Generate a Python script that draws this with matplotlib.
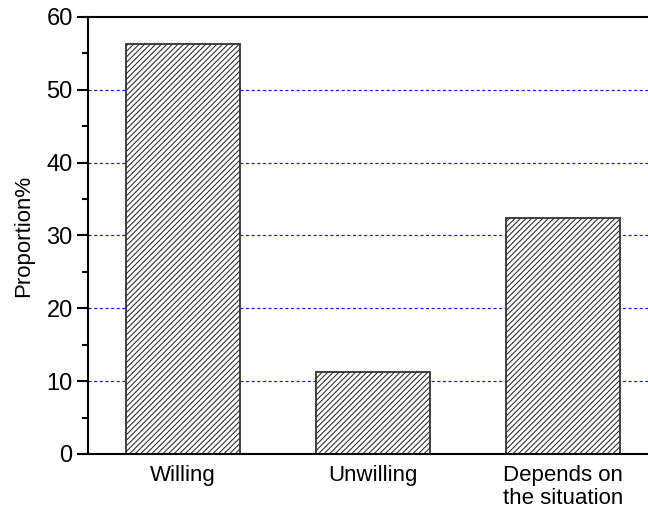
import matplotlib
matplotlib.use('Agg')
import matplotlib.pyplot as plt
from matplotlib.ticker import MultipleLocator

categories = ['Willing', 'Unwilling', 'Depends on\nthe situation']
proportions = [56.3, 11.3, 32.4]
yticks = [0, 10, 20, 30, 40, 50, 60]

plt.rcParams['font.family'] = ['Liberation Sans', 'DejaVu Sans']
plt.rcParams['hatch.linewidth'] = 0.8
plt.rcParams['hatch.color'] = '#222222'

fig = plt.figure(figsize=(6.48, 5.18), dpi=100)
ax = fig.add_axes([0.1358, 0.1236, 0.8796, 0.8436])

xs = list(range(len(categories)))
ax.bar(xs, proportions, width=0.6, color='white', edgecolor='#333333',
       linewidth=1.3, hatch='//////', zorder=2)

for y in yticks[1:-1]:
    ax.axhline(y, color='#1a1aff', linestyle=(0, (2.5, 2)), linewidth=0.9, zorder=1)

ax.set_xlim(-0.5, 2.5)
ax.set_ylim(0, 60)
ax.set_xticks(xs)
ax.set_xticklabels(categories, fontsize=16, linespacing=1.15)
ax.set_yticks(yticks)
ax.yaxis.set_minor_locator(MultipleLocator(5))
ax.tick_params(axis='y', which='major', length=8, width=1.5, labelsize=17, direction='out', pad=3)
ax.tick_params(axis='y', which='minor', length=4, width=1.5, direction='out')
ax.tick_params(axis='x', length=0, pad=8)
ax.set_ylabel('Proportion%', fontsize=16, labelpad=9)

for side in ['left', 'bottom', 'top', 'right']:
    ax.spines[side].set_linewidth(1.5)

fig.savefig('out.png', dpi=100)
